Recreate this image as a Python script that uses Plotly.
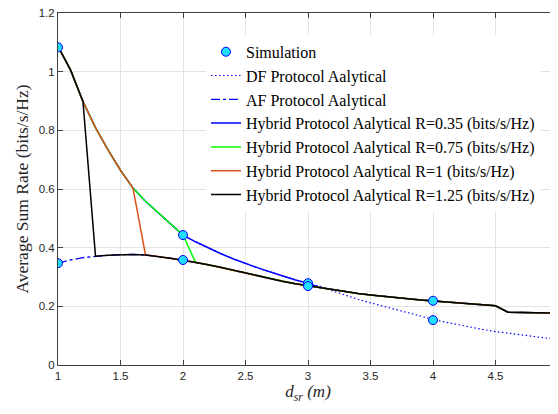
import plotly.graph_objects as go

# ---- data ----
d_sr = [1.0, 1.1, 1.2, 1.3, 1.4, 1.5, 1.6, 1.7, 1.8, 1.9, 2.0,
        2.1, 2.2, 2.3, 2.4, 2.5, 2.6, 2.7, 2.8, 2.9, 3.0,
        3.1, 3.2, 3.3, 3.4, 3.5, 3.6, 3.7, 3.8, 3.9, 4.0,
        4.1, 4.2, 4.3, 4.4, 4.5, 4.6, 4.7, 4.8, 4.9, 5.0]

df_rate = [1.086, 1.006, 0.898, 0.809, 0.733, 0.664, 0.603, 0.558, 0.520, 0.482, 0.443,
           0.420, 0.399, 0.380, 0.362, 0.346, 0.331, 0.317, 0.303, 0.290, 0.279,
           0.268, 0.252, 0.237, 0.224, 0.212, 0.200, 0.189, 0.178, 0.167, 0.155,
           0.146, 0.137, 0.129, 0.121, 0.114, 0.108, 0.102, 0.097, 0.092, 0.088]

af_rate = [0.347, 0.358, 0.366, 0.371, 0.374, 0.376, 0.377, 0.375, 0.370, 0.364, 0.357,
           0.350, 0.342, 0.333, 0.323, 0.314, 0.304, 0.294, 0.285, 0.277, 0.270,
           0.263, 0.257, 0.250, 0.244, 0.239, 0.234, 0.230, 0.226, 0.222, 0.219,
           0.215, 0.212, 0.209, 0.206, 0.202, 0.180, 0.179, 0.178, 0.178, 0.177]

# index of first point where each hybrid scheme switches from DF to AF
hybrid_R = ["0.35", "0.75", "1", "1.25"]
hybrid_switch = [21, 11, 7, 3]
hybrid_colors = ["#0000FF", "#00FF00", "#D95319", "#000000"]

sim_x = [1, 1, 2, 2, 3, 3, 4, 4]
sim_y = [1.083, 0.347, 0.443, 0.358, 0.279, 0.269, 0.219, 0.153]

x_ticks = [1, 1.5, 2, 2.5, 3, 3.5, 4, 4.5, 5]
y_ticks = [0, 0.2, 0.4, 0.6, 0.8, 1.0, 1.2]

# ---- figure ----
fig = go.Figure()

fig.add_trace(go.Scatter(x=d_sr, y=df_rate, mode="lines", name="DF Protocol Aalytical",
                         line=dict(color="#0000FF", width=1.2, dash="1.5px,2.5px"), legendrank=2))
fig.add_trace(go.Scatter(x=d_sr, y=af_rate, mode="lines", name="AF Protocol Aalytical",
                         line=dict(color="#0000FF", width=1.3, dash="dashdot"), legendrank=3))

for i, (R, k, c) in enumerate(zip(hybrid_R, hybrid_switch, hybrid_colors)):
    y = df_rate[:k] + af_rate[k:]
    fig.add_trace(go.Scatter(x=d_sr, y=y, mode="lines",
                             name=f"Hybrid Protocol Aalytical R={R} (bits/s/Hz)",
                             line=dict(color=c, width=1.5), legendrank=4 + i))

fig.add_trace(go.Scatter(x=sim_x, y=sim_y, mode="markers", name="Simulation",
                         marker=dict(size=9, color="#22DDFF", line=dict(color="#0000FF", width=1)),
                         legendrank=1))

axis_common = dict(
    showgrid=True, gridcolor="#E3E3E3", gridwidth=1,
    showline=True, linecolor="#404040", linewidth=1, mirror="allticks",
    ticks="inside", ticklen=5, tickcolor="#404040",
    tickfont=dict(family="Liberation Sans", size=11.5, color="#262626"),
    ticklabeloverflow="allow",
    zeroline=False, automargin=False,
)

fig.update_layout(
    width=550, height=398,
    margin=dict(l=50, r=0, t=5, b=41, autoexpand=False),
    plot_bgcolor="white", paper_bgcolor="white",
    xaxis=dict(range=[1, 5], tickvals=x_ticks, ticktext=[f"{v:g}" for v in x_ticks],
               title=dict(text="<i>d</i><sub><i>sr</i></sub> <i>(m)</i>",
                          font=dict(family="Liberation Serif", size=17, color="#262626"),
                          standoff=4),
               **axis_common),
    yaxis=dict(range=[0, 1.2], tickvals=y_ticks, ticktext=[f"{v:g}" for v in y_ticks],
               title=dict(text="Average Sum Rate (bits/s/Hz)",
                          font=dict(family="Liberation Serif", size=17.5, color="#262626"),
                          standoff=5),
               **axis_common),
    legend=dict(x=0.296, y=0.938, xanchor="left", yanchor="top",
                bgcolor="white", borderwidth=0,
                font=dict(family="Liberation Serif", size=16, color="#000000"),
                tracegroupgap=0),
    showlegend=True,
)

fig.write_html("out.html")
